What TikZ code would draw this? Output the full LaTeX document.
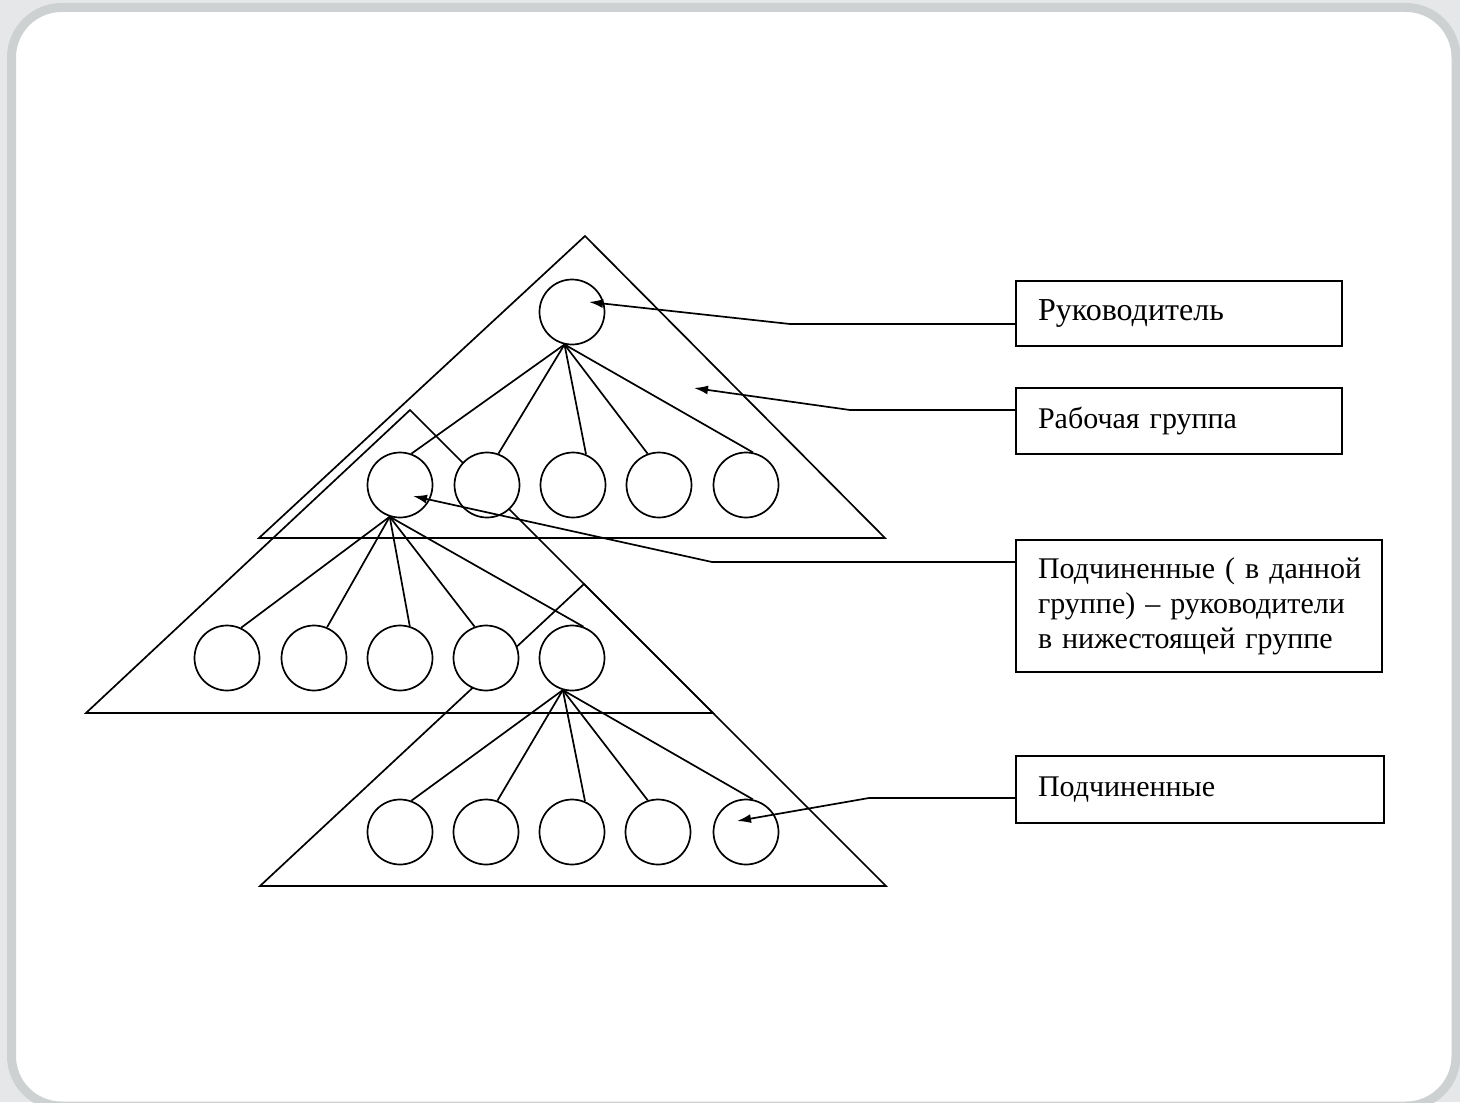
\documentclass[tikz,border=0pt]{standalone}
\usepackage{fontspec}
\setmainfont{Liberation Serif}
\usetikzlibrary{arrows.meta,calc}
\definecolor{bgout}{HTML}{E6E7E8}
\definecolor{frameborder}{HTML}{CDD1D2}
\begin{document}
\begin{tikzpicture}[x=0.5pt,y=-0.5pt,
  edge/.style={line width=0.85pt},
  member/.style={circle,draw,fill=white,line width=0.85pt,inner sep=0pt,minimum size=32.5pt},
  labelbox/.style={draw,line width=1pt,anchor=north west,inner ysep=0pt,inner xsep=11pt,align=left,
    font=\fontsize{15}{17.5}\selectfont},
  pointer/.style={line width=0.85pt,-{Latex[length=7pt,width=4.5pt]}}]
\useasboundingbox (0,0) rectangle (1460,1102);
\clip (0,0) rectangle (1460,1102);
% background frame
\fill[bgout] (0,0) rectangle (1460,1102);
\draw[frameborder,line width=4.5pt,fill=white,rounded corners=25pt] (11.5,7.5) rectangle (1456,1106);
% triangles
\draw[edge] (585,236) -- (259,538) -- (885,538) -- cycle;
\draw[edge] (410,410) -- (86,713) -- (713,713) -- cycle;
\draw[edge] (584,584) -- (260,886) -- (886,886) -- cycle;
% circles
\node[member] (lead) at (572,312) {};
\foreach \i/\x in {1/400,2/487,3/573,4/659,5/746} \node[member] (a\i) at (\x,485) {};
\foreach \i/\x in {1/227,2/314,3/400,4/486,5/572} \node[member] (m\i) at (\x,658) {};
\foreach \i/\x in {1/400,2/486,3/572,4/658,5/746} \node[member] (s\i) at (\x,832) {};
% fans
\foreach \i/\a in {1/70,2/70,3/67,4/110,5/78} \draw[edge] (lead.-103) -- (a\i.\a);
\foreach \i/\a in {1/65,2/67,3/73,4/110,5/70} \draw[edge] (a1.-108) -- (m\i.\a);
\foreach \i/\a in {1/70,2/70,3/67,4/108,5/78} \draw[edge] (m5.-106) -- (s\i.\a);
% label boxes
\node[labelbox,text width=141pt,minimum height=32.5pt,font=\fontsize{16}{17.5}\selectfont] (boxA) at (1015,280) {\mbox{Руководитель}};
\node[labelbox,text width=141pt,minimum height=33pt] (boxB) at (1015,387) {\mbox{Рабочая группа}};
\node[labelbox,text width=161pt,minimum height=66pt] (boxC) at (1015,539)
  {\mbox{Подчиненные ( в данной}\\\mbox{группе) – руководители}\\\mbox{в нижестоящей группе}};
\node[labelbox,text width=162pt,minimum height=33.5pt] (boxD) at (1015,755) {\mbox{Подчиненные}};
% pointers
\coordinate (k1) at (790,324); \coordinate (t1) at (589,302);
\coordinate (k2) at (850,410); \coordinate (t2) at (694,388);
\coordinate (k3) at (712,562); \coordinate (t3) at (413,496);
\coordinate (k4) at (869,798); \coordinate (t4) at (737,821);
\draw[pointer] (boxA.west |- k1) -- (k1) -- (t1);
\draw[pointer] (boxB.west |- k2) -- (k2) -- (t2);
\draw[pointer] (boxC.west |- k3) -- (k3) -- (t3);
\draw[pointer] (boxD.west |- k4) -- (k4) -- (t4);
\end{tikzpicture}
\end{document}
